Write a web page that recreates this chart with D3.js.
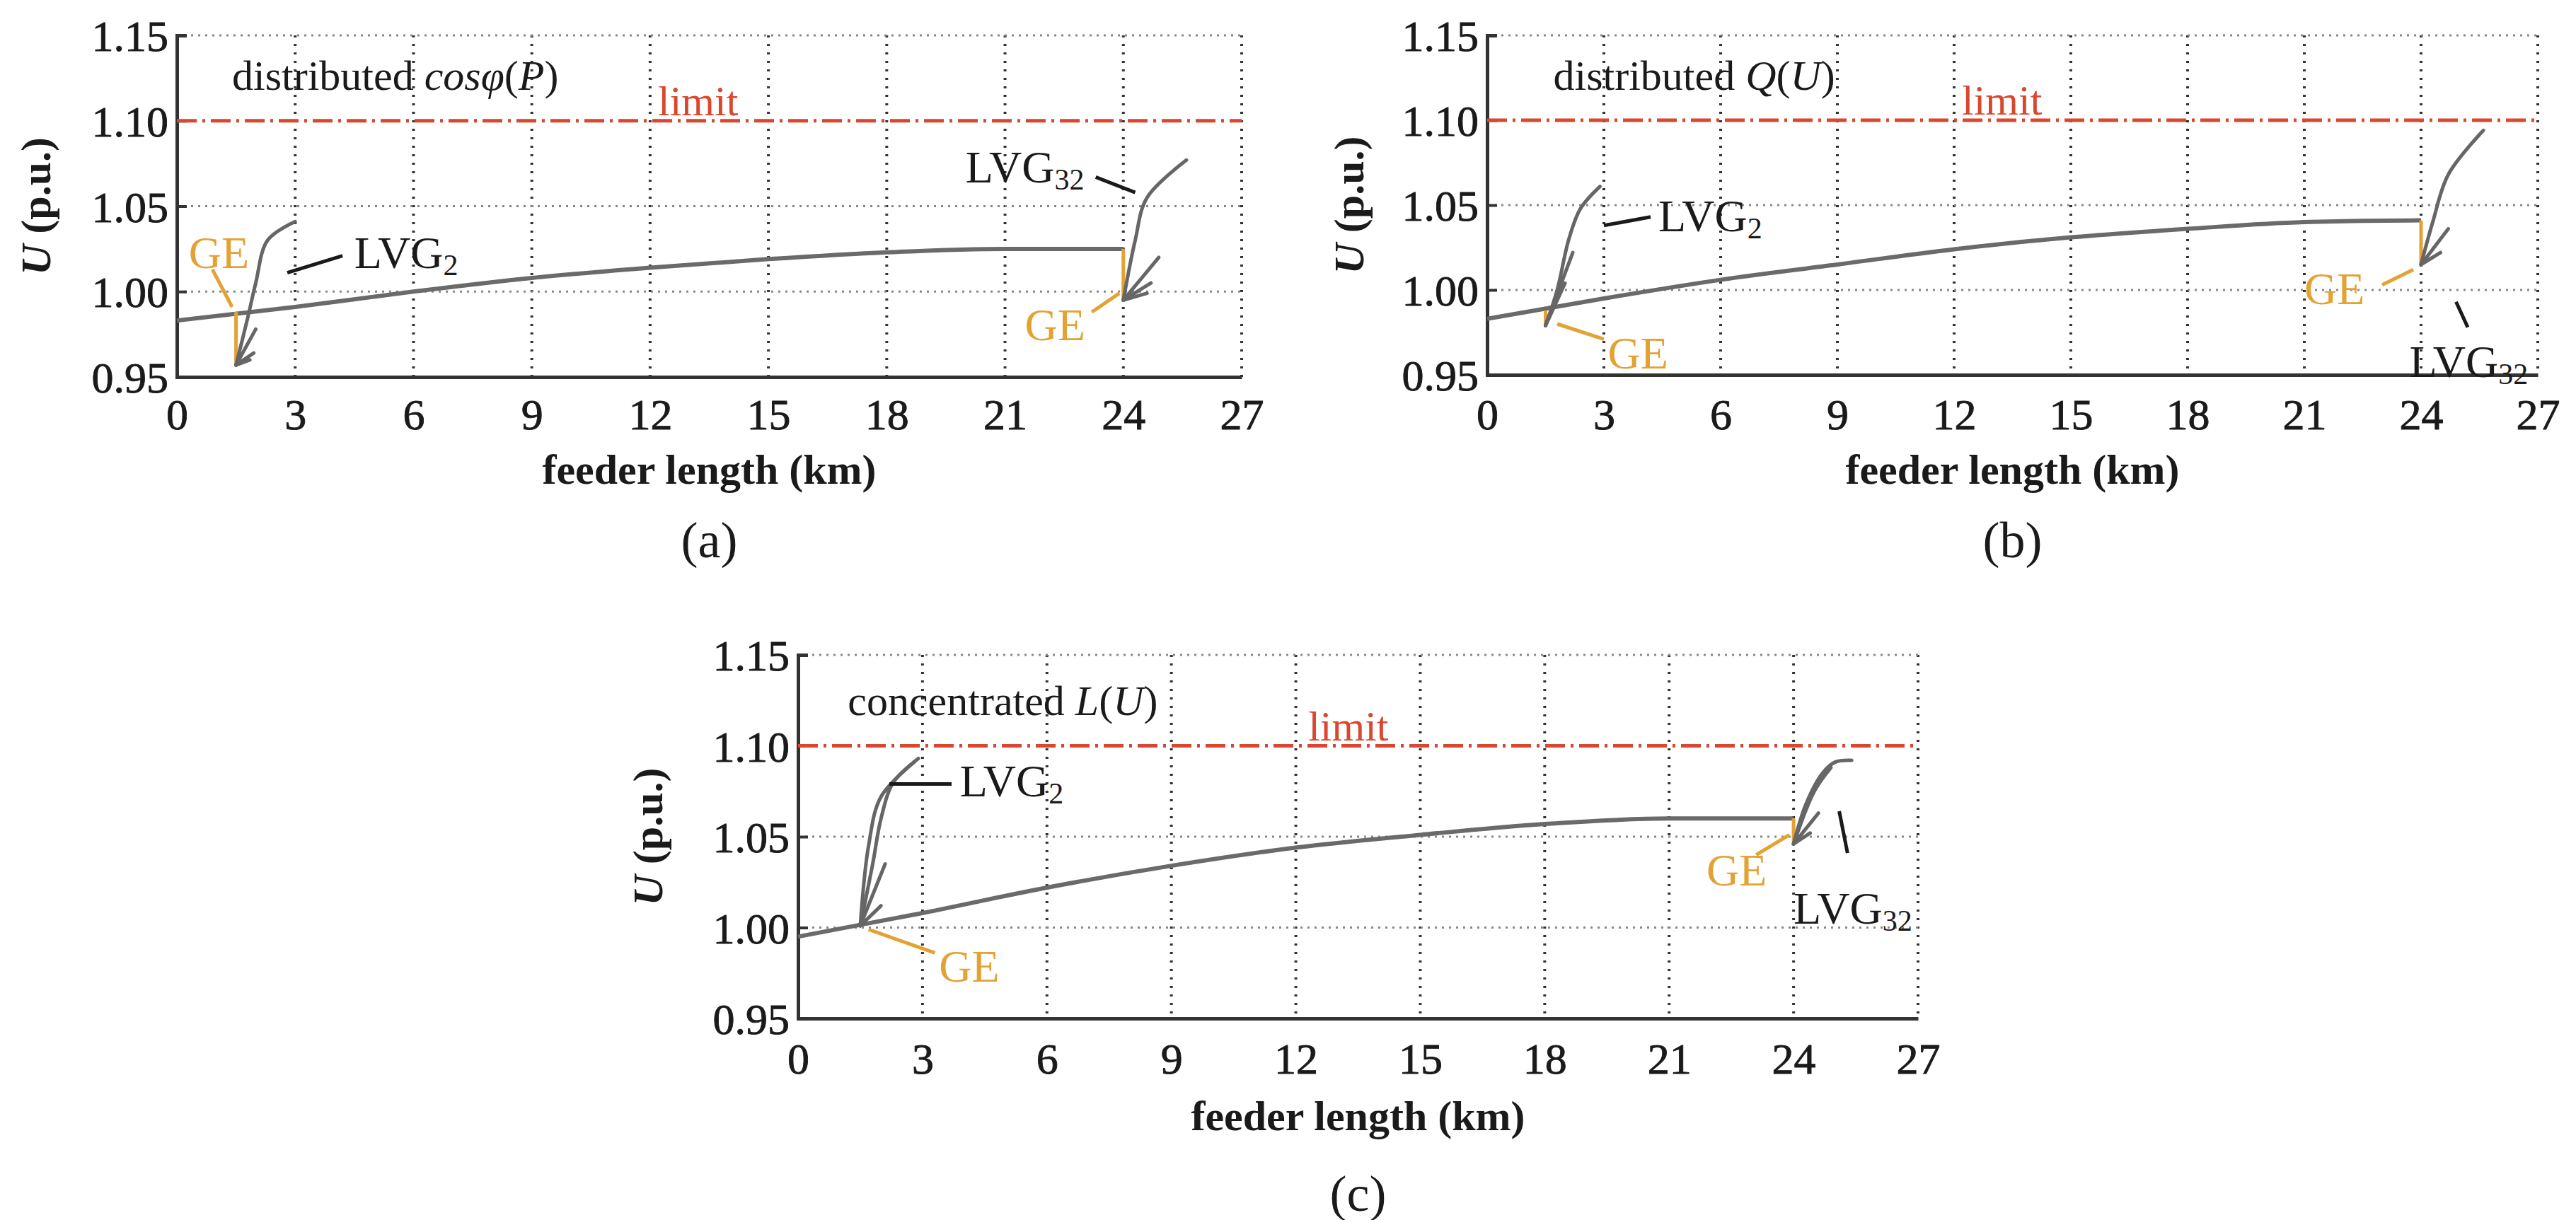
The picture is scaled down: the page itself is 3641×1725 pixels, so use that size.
<!DOCTYPE html>
<html>
<head>
<meta charset="utf-8">
<script src="https://cdn.jsdelivr.net/npm/d3@7"></script>
<style>
  body { margin: 0; background: #fff; }
  text { font-family: "Liberation Serif", "DejaVu Serif", serif; fill: #1a1a1a; }
</style>
</head>
<body>
<svg id="fig" width="3641" height="1725"></svg>
<script>
// axis ticks
const xTicks = [0, 3, 6, 9, 12, 15, 18, 21, 24, 27];
const yTicks = [0.95, 1.00, 1.05, 1.10, 1.15];
const limitU = 1.10;

// feeder profiles (km, p.u.)
const feederKm = [0, 3, 6, 9, 12, 15, 18, 21, 24];
const feederA = [0.983, 0.991, 1.000, 1.008, 1.014, 1.019, 1.023, 1.025, 1.025];
const feederB = [0.983, 0.995, 1.006, 1.015, 1.024, 1.031, 1.036, 1.040, 1.041];
const feederC = [0.995, 1.008, 1.022, 1.034, 1.044, 1.051, 1.057, 1.060, 1.060];

// GE drops: [km, feeder U, GE U]
const geA = [[1.5, 0.988, 0.957], [24, 1.025, 0.995]];
const geB = [[1.5, 0.988, 0.979], [24, 1.041, 1.015]];
const geC = [[1.5, 1.001, 1.001], [24, 1.060, 1.046]];

// LVG voltage profiles: main curve + short branches, all starting at GE point
const lvgA = [
  [[1.5, 0.957], [1.8, 0.985], [2.0, 1.005], [2.3, 1.030], [3.0, 1.041]],
  [[1.5, 0.957], [2.0, 0.978]], [[1.5, 0.957], [1.95, 0.964]], [[1.5, 0.957], [1.85, 0.960]],
  [[24, 0.995], [24.3, 1.030], [24.6, 1.055], [25.6, 1.077]],
  [[24, 0.995], [24.9, 1.020]], [[24, 0.995], [24.7, 1.005]], [[24, 0.995], [24.6, 0.999]]
];
const lvgB = [
  [[1.5, 0.979], [1.8, 1.000], [2.1, 1.030], [2.4, 1.048], [2.9, 1.061]],
  [[1.5, 0.979], [2.2, 1.022]], [[1.5, 0.979], [2.0, 1.004]],
  [[24, 1.015], [24.3, 1.040], [24.7, 1.068], [25.6, 1.094]],
  [[24, 1.015], [24.7, 1.036]], [[24, 1.015], [24.5, 1.022]]
];
const lvgC = [
  [[1.5, 1.001], [1.8, 1.035], [2.0, 1.060], [2.3, 1.080], [2.9, 1.093]],
  [[1.5, 1.001], [1.7, 1.045], [2.0, 1.072], [2.8, 1.091]],
  [[1.5, 1.001], [2.1, 1.035]], [[1.5, 1.001], [2.0, 1.012]],
  [[24, 1.046], [24.3, 1.068], [24.7, 1.085], [25.0, 1.091], [25.4, 1.092]],
  [[24, 1.046], [24.5, 1.075], [24.9, 1.088]],
  [[24, 1.046], [24.6, 1.063]], [[24, 1.046], [24.4, 1.052]]
];

// annotations: [text, sub, km, U, color]
const labelsA = [["GE", "", 0.3, 1.022, "#e3a234"], ["LVG", "2", 4.5, 1.022, "#1a1a1a"],
                 ["LVG", "32", 20.0, 1.072, "#1a1a1a"], ["GE", "", 21.5, 0.980, "#e3a234"]];
const labelsB = [["LVG", "2", 4.4, 1.043, "#1a1a1a"], ["GE", "", 3.1, 0.962, "#e3a234"],
                 ["GE", "", 21.0, 1.000, "#e3a234"], ["LVG", "32", 23.7, 0.957, "#1a1a1a"]];
const labelsC = [["LVG", "2", 3.9, 1.080, "#1a1a1a"], ["GE", "", 3.4, 0.978, "#e3a234"],
                 ["GE", "", 21.9, 1.031, "#e3a234"], ["LVG", "32", 24.0, 1.010, "#1a1a1a"]];
// leader lines: [km1, U1, km2, U2, color]
const leadersA = [[0.9, 1.013, 1.4, 0.991, "#e3a234"], [2.8, 1.011, 4.2, 1.021, "#1a1a1a"],
                  [23.3, 1.067, 24.3, 1.058, "#1a1a1a"], [23.2, 0.988, 23.9, 0.999, "#e3a234"]];
const leadersB = [[3.0, 1.038, 4.2, 1.043, "#1a1a1a"], [1.8, 0.980, 3.0, 0.971, "#e3a234"],
                  [23.0, 1.003, 23.8, 1.012, "#e3a234"], [24.9, 0.993, 25.2, 0.978, "#1a1a1a"]];
const leadersC = [[2.2, 1.079, 3.7, 1.079, "#1a1a1a"], [1.7, 0.999, 3.3, 0.986, "#e3a234"],
                  [23.1, 1.040, 23.9, 1.051, "#e3a234"], [25.1, 1.064, 25.3, 1.041, "#1a1a1a"]];

const panels = [
  {box: [250, 50, 1755, 533], ylab: 51, tick: 607, xt: 684, tag: "(a)", tagY: 788,
   feeder: feederA, ge: geA, lvg: lvgA, labels: labelsA, leaders: leadersA,
   title: [["distributed ", false], ["cosφ", true], ["(", false], ["P", true], [")", false]], titleAt: [1.4, 1.118], limitKm: 12.2},
  {box: [2102, 50, 3587, 530], ylab: 1907, tick: 607, xt: 684, tag: "(b)", tagY: 788,
   feeder: feederB, ge: geB, lvg: lvgB, labels: labelsB, leaders: leadersB,
   title: [["distributed ", false], ["Q", true], ["(", false], ["U", true], [")", false]], titleAt: [1.7, 1.118], limitKm: 12.2},
  {box: [1128, 926, 2711, 1440], ylab: 916, tick: 1518, xt: 1598, tag: "(c)", tagY: 1712,
   feeder: feederC, ge: geC, lvg: lvgC, labels: labelsC, leaders: leadersC,
   title: [["concentrated ", false], ["L", true], ["(", false], ["U", true], [")", false]], titleAt: [1.2, 1.117], limitKm: 12.3}
];

const svg = d3.select("#fig");

panels.forEach(p => {
  const [x0, y0, x1, y1] = p.box;
  const x = d3.scaleLinear().domain([0, 27]).range([x0, x1]);
  const y = d3.scaleLinear().domain([0.95, 1.15]).range([y1, y0]);
  const g = svg.append("g");

  // grid
  g.selectAll(".vg").data(xTicks.slice(1)).join("line")
    .attr("x1", d => x(d)).attr("x2", d => x(d)).attr("y1", y0).attr("y2", y1)
    .attr("stroke", "#333").attr("stroke-width", 4).attr("stroke-dasharray", "3 9");
  g.selectAll(".hg").data(yTicks.filter(d => d !== 0.95 && d !== limitU)).join("line")
    .attr("x1", x0).attr("x2", x1).attr("y1", d => y(d)).attr("y2", d => y(d))
    .attr("stroke", "#888").attr("stroke-width", 3).attr("stroke-dasharray", "3 7");

  // axes
  const xa = g.append("g").attr("transform", `translate(0,${y1})`)
    .call(d3.axisBottom(x).tickValues(xTicks).tickSize(0).tickPadding(0));
  const ya = g.append("g").attr("transform", `translate(${x0},0)`)
    .call(d3.axisLeft(y).tickValues(yTicks).tickFormat(d3.format(".2f")).tickSize(-14).tickPadding(12));
  [xa, ya].forEach(a => {
    a.select(".domain").attr("stroke", "#333").attr("stroke-width", 5);
    a.selectAll("line").attr("stroke", "#333").attr("stroke-width", 4);
    a.selectAll("text").attr("font-size", 62).attr("fill", "#1a1a1a")
      .attr("stroke", "#1a1a1a").attr("stroke-width", 0.9).attr("font-family", "Liberation Serif");
  });
  xa.selectAll("text").attr("dy", null).attr("y", p.tick - y1);
  ya.selectAll("text").attr("dy", "0.35em");

  // limit
  g.append("line").attr("x1", x0).attr("x2", x1).attr("y1", y(limitU)).attr("y2", y(limitU))
    .attr("stroke", "#d9472e").attr("stroke-width", 5).attr("stroke-dasharray", "28 8 4 8");
  g.append("text").attr("x", x(p.limitKm)).attr("y", y(limitU) - 8)
    .attr("font-size", 60).style("fill", "#d9472e").text("limit");

  const line = d3.line().x(d => x(d[0])).y(d => y(d[1])).curve(d3.curveMonotoneX);
  const lineN = d3.line().x(d => x(d[0])).y(d => y(d[1])).curve(d3.curveCatmullRom);

  // feeder
  g.append("path").datum(d3.zip(feederKm, p.feeder)).attr("d", line)
    .attr("fill", "none").attr("stroke", "#6a6a6a").attr("stroke-width", 6);
  // GE drops
  g.selectAll(".ge").data(p.ge).join("line")
    .attr("x1", d => x(d[0])).attr("x2", d => x(d[0])).attr("y1", d => y(d[1])).attr("y2", d => y(d[2]))
    .attr("stroke", "#e3a234").attr("stroke-width", 5);
  // LVG curves
  g.selectAll(".lvg").data(p.lvg).join("path").attr("d", lineN)
    .attr("fill", "none").attr("stroke", "#666").attr("stroke-width", 5).attr("stroke-linecap", "round");

  // leaders
  g.selectAll(".ld").data(p.leaders).join("line")
    .attr("x1", d => x(d[0])).attr("y1", d => y(d[1])).attr("x2", d => x(d[2])).attr("y2", d => y(d[3]))
    .attr("stroke", d => d[4]).attr("stroke-width", 5);
  // labels
  p.labels.forEach(l => {
    const t = g.append("text").attr("x", x(l[2])).attr("y", y(l[3]) + 20)
      .attr("font-size", 64).style("fill", l[4]);
    t.append("tspan").text(l[0]);
    if (l[1]) t.append("tspan").attr("font-size", 42).attr("dy", 10).text(l[1]);
  });

  // panel title
  const tt = g.append("text").attr("x", x(p.titleAt[0])).attr("y", y(p.titleAt[1])).attr("font-size", 60);
  p.title.forEach(s => tt.append("tspan").attr("font-style", s[1] ? "italic" : "normal").text(s[0]));

  // axis titles
  g.append("text").attr("x", (x0 + x1) / 2).attr("y", p.xt).attr("text-anchor", "middle")
    .attr("font-size", 60).attr("font-weight", "bold").text("feeder length (km)");
  const yl = g.append("text").attr("transform", `translate(${p.ylab + 20},${(y0 + y1) / 2}) rotate(-90)`)
    .attr("text-anchor", "middle").attr("font-size", 60).attr("font-weight", "bold");
  yl.append("tspan").attr("font-style", "italic").text("U");
  yl.append("tspan").text(" (p.u.)");
  g.append("text").attr("x", (x0 + x1) / 2).attr("y", p.tagY).attr("text-anchor", "middle")
    .attr("font-size", 72).text(p.tag);
});
</script>
</body>
</html>
